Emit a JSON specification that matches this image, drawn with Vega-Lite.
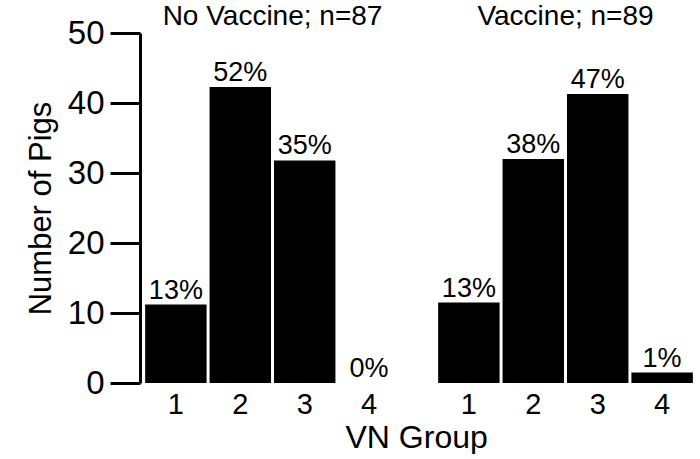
{
  "$schema": "https://vega.github.io/schema/vega-lite/v6.json",
  "background": "white",
  "padding": {"left": 25, "top": 3, "right": 0, "bottom": 0},
  "title": {"text": "VN Group", "orient": "bottom", "anchor": "middle", "fontSize": 32, "font": "Liberation Sans", "fontWeight": "normal", "color": "black", "dx": 55, "offset": 4},
  "data": {"values": [
    {"panel": "No Vaccine; n=87", "group": "1", "pigs": 11.2, "pct": "13%"},
    {"panel": "No Vaccine; n=87", "group": "2", "pigs": 42.3, "pct": "52%"},
    {"panel": "No Vaccine; n=87", "group": "3", "pigs": 31.8, "pct": "35%"},
    {"panel": "No Vaccine; n=87", "group": "4", "pigs": 0, "pct": "0%"},
    {"panel": "Vaccine; n=89", "group": "1", "pigs": 11.5, "pct": "13%"},
    {"panel": "Vaccine; n=89", "group": "2", "pigs": 32.0, "pct": "38%"},
    {"panel": "Vaccine; n=89", "group": "3", "pigs": 41.3, "pct": "47%"},
    {"panel": "Vaccine; n=89", "group": "4", "pigs": 1.5, "pct": "1%"}
  ]},
  "facet": {"column": {"field": "panel", "type": "nominal", "sort": ["No Vaccine; n=87", "Vaccine; n=89"],
    "header": {"title": null, "labelFontSize": 28, "labelFont": "Liberation Sans", "labelColor": "black", "labelPadding": 2}}},
  "spacing": 28,
  "spec": {
    "width": 265,
    "height": 350,
    "encoding": {
      "x": {"field": "group", "type": "nominal", "title": null,
        "scale": {"paddingInner": 0.046, "paddingOuter": 0.08},
        "axis": {"labelAngle": 0, "ticks": false, "domain": false, "labelFontSize": 29, "labelPadding": 7}},
      "y": {"field": "pigs", "type": "quantitative", "title": "Number of Pigs",
        "scale": {"domain": [0, 50], "nice": false},
        "axis": {"values": [0, 10, 20, 30, 40, 50], "grid": false, "tickSize": 30, "tickWidth": 3, "domainWidth": 3, "labelFontSize": 33, "labelPadding": 6, "labelDy": -5, "titleFontSize": 31, "titlePadding": 10}}
    },
    "layer": [
      {"mark": {"type": "bar", "color": "black"}},
      {"mark": {"type": "text", "baseline": "alphabetic", "dy": -6, "fontSize": 27, "font": "Liberation Sans", "color": "black"},
        "encoding": {"text": {"field": "pct"}}}
    ]
  },
  "config": {
    "view": {"stroke": null},
    "font": "Liberation Sans",
    "axis": {"labelColor": "black", "titleColor": "black", "domainColor": "black", "tickColor": "black", "titleFontWeight": "normal", "labelFont": "Liberation Sans", "titleFont": "Liberation Sans"}
  }
}
